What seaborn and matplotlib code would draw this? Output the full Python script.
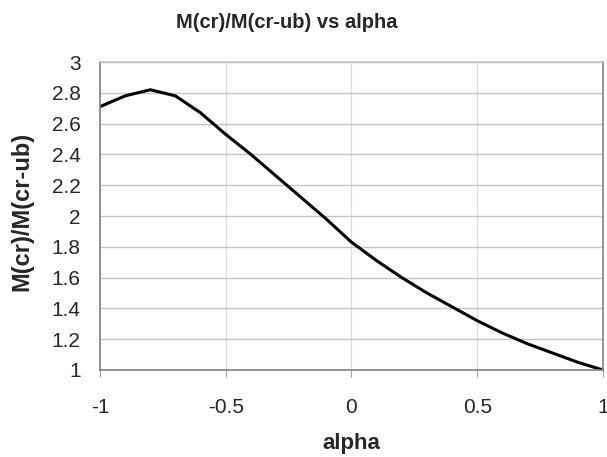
import matplotlib
matplotlib.use("Agg")
import matplotlib.pyplot as plt
import seaborn as sns
import pandas as pd

# values
alpha = [-1.0, -0.9, -0.8, -0.7, -0.6, -0.5, -0.4, -0.3, -0.2, -0.1, 0.0,
         0.1, 0.2, 0.3, 0.4, 0.5, 0.6, 0.7, 0.8, 0.9, 1.0]
ratio = [2.71, 2.78, 2.82, 2.78, 2.67, 2.53, 2.40, 2.26, 2.12, 1.98, 1.83,
         1.71, 1.60, 1.50, 1.41, 1.32, 1.24, 1.17, 1.11, 1.05, 1.00]
x_ticks = [-1, -0.5, 0, 0.5, 1]
x_labels = ["-1", "-0.5", "0", "0.5", "1"]
y_ticks = [1, 1.2, 1.4, 1.6, 1.8, 2, 2.2, 2.4, 2.6, 2.8, 3]
y_labels = ["1", "1.2", "1.4", "1.6", "1.8", "2", "2.2", "2.4", "2.6", "2.8", "3"]

df = pd.DataFrame({"alpha": alpha, "ratio": ratio})

sns.set_theme(style="whitegrid")
plt.rcParams["font.family"] = ["Liberation Sans", "DejaVu Sans"]

fig = plt.figure(figsize=(6.07, 4.57), dpi=100)
ax = fig.add_axes([0.1647, 0.1904, 0.8287, 0.6739])

sns.lineplot(data=df, x="alpha", y="ratio", color="black", linewidth=2.2, ax=ax)

ax.set_xlim(-1, 1)
ax.set_ylim(1, 3)
ax.set_xticks(x_ticks)
ax.set_xticklabels(x_labels)
ax.set_yticks(y_ticks)
ax.set_yticklabels(y_labels)

ax.grid(axis="y", color="#c4c4c4", linewidth=1.0)
ax.grid(axis="x", color="#dcdcdc", linewidth=0.9)
for s in ax.spines.values():
    s.set_color("#808080")
    s.set_linewidth(1.2)
ax.spines["top"].set_color("#c4c4c4")

ax.tick_params(axis="x", length=5, width=0.8, color="#a0a0a0", pad=15,
               labelsize=15, bottom=True)
ax.tick_params(axis="y", length=0, pad=14, labelsize=15)

ax.set_xlabel("alpha", fontsize=16, fontweight="bold")
ax.set_ylabel("M(cr)/M(cr-ub)", fontsize=17, fontweight="bold")
ax.xaxis.set_label_coords(0.5, -0.205)
ax.yaxis.set_label_coords(-0.133, 0.515)

fig.text(287 / 607, 1 - 22 / 457, "M(cr)/M(cr-ub) vs alpha", ha="center",
         va="center", fontsize=14.5, fontweight="bold")

fig.savefig("out.png", dpi=100, facecolor="white")
